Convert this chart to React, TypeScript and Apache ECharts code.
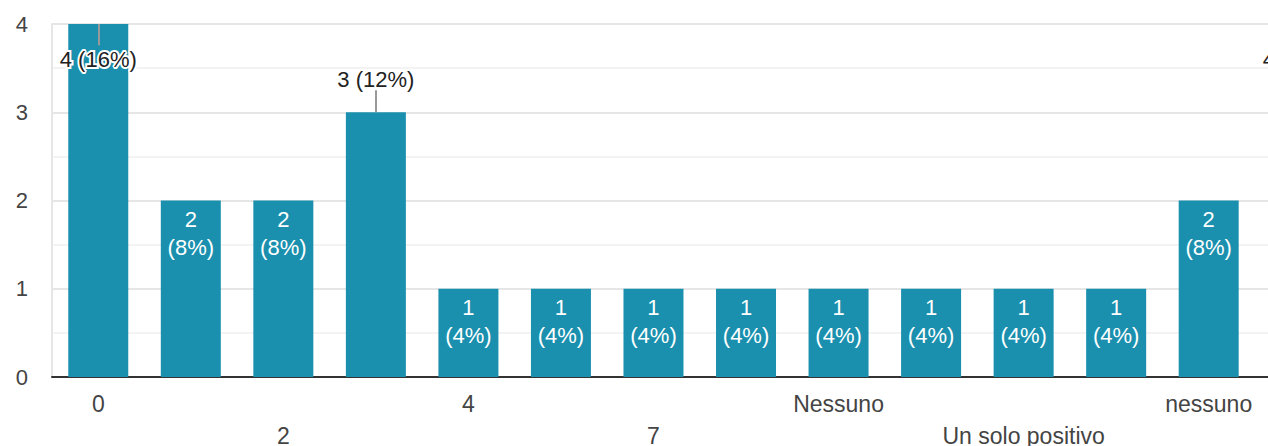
import React, { useEffect, useRef } from "react";
import * as echarts from "echarts";

const categories = [
  "0",
  "1",
  "2",
  "3",
  "4",
  "5",
  "7",
  "8",
  "Nessuno",
  "Nessuno positivo",
  "Un solo positivo",
  "Uno",
  "nessuno",
  "zero",
];
const counts = [4, 2, 2, 3, 1, 1, 1, 1, 1, 1, 1, 1, 2, 4];
const yTicks = [0, 1, 2, 3, 4];

const BAR_COLOR = "#1a90ae";
const FONT = "Arial, 'Liberation Sans', sans-serif";

export default function App() {
  const ref = useRef<HTMLDivElement>(null);

  useEffect(() => {
    if (!ref.current) return;
    const chart = echarts.init(ref.current, null, { renderer: "svg" });
    const total = counts.reduce((a, b) => a + b, 0);
    const yMax = Math.max(...yTicks);

    const data = counts.map((v) => {
      const pct = Math.round((v / total) * 100);
      let label: any;
      if (v >= yMax) {
        label = {
          show: true,
          position: "insideTop",
          distance: 24,
          formatter: `${v} (${pct}%)`,
          color: "#222",
          textBorderColor: "#fff",
          textBorderWidth: 4,
        };
      } else if (v >= 3) {
        label = {
          show: true,
          position: "top",
          distance: 22,
          formatter: `${v} (${pct}%)`,
          color: "#222",
        };
      } else {
        label = {
          show: true,
          position: "insideTop",
          distance: 5,
          formatter: `${v}\n(${pct}%)`,
          color: "#fff",
          lineHeight: 28,
        };
      }
      return { value: v, label };
    });

    const leaders: any[] = [];
    counts.forEach((v, i) => {
      if (v >= yMax) {
        leaders.push([{ coord: [categories[i], v] }, { coord: [categories[i], v - 0.24] }]);
      } else if (v >= 3) {
        leaders.push([{ coord: [categories[i], v] }, { coord: [categories[i], v + 0.25] }]);
      }
    });

    chart.setOption({
      animation: false,
      textStyle: { fontFamily: FONT },
      grid: {
        left: 52,
        top: 24,
        width: 1295.5,
        bottom: 69,
        containLabel: false,
        outerBoundsMode: "none",
      },
      xAxis: {
        type: "category",
        data: categories,
        axisLine: { show: true, lineStyle: { color: "#333", width: 2 } },
        axisTick: { show: false },
        axisLabel: {
          interval: 1,
          margin: 11,
          color: "#444",
          fontSize: 23,
          fontFamily: FONT,
          lineHeight: 32,
          formatter: (value: string, index: number) =>
            index % 4 === 0 ? value : "\n" + value,
        },
        splitLine: { show: false },
      },
      yAxis: {
        type: "value",
        min: yTicks[0],
        max: yTicks[yTicks.length - 1],
        interval: 1,
        axisLine: { show: true, lineStyle: { color: "#e6e6e6", width: 2 } },
        axisTick: { show: false },
        axisLabel: { color: "#444", fontSize: 22, fontFamily: FONT, margin: 24 },
        splitLine: { show: true, lineStyle: { color: "#e6e6e6", width: 2 } },
        minorTick: { show: false, splitNumber: 2 },
        minorSplitLine: { show: true, lineStyle: { color: "#f3f3f3", width: 2 } },
      },
      series: [
        {
          type: "bar",
          data,
          barWidth: 60,
          itemStyle: { color: BAR_COLOR },
          label: { fontSize: 22, fontFamily: FONT },
          markLine: {
            silent: true,
            symbol: ["none", "none"],
            label: { show: false },
            lineStyle: { color: "#999", width: 2, type: "solid" },
            emphasis: { disabled: true },
            data: leaders,
          },
        },
      ],
    });

    return () => chart.dispose();
  }, []);

  return (
    <div
      style={{
        position: "fixed",
        left: 0,
        top: 0,
        width: 1268,
        height: 446,
        overflow: "hidden",
        background: "#fff",
      }}
    >
      <div ref={ref} style={{ width: 1420, height: 446 }} />
    </div>
  );
}
